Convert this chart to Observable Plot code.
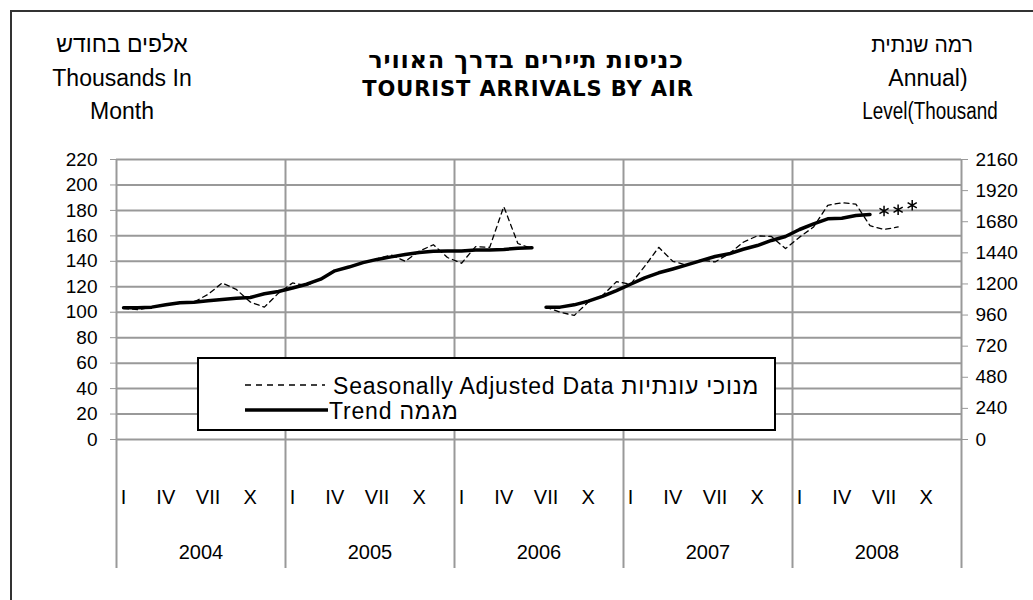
<!DOCTYPE html>
<html>
<head>
<meta charset="utf-8">
<script src="https://cdn.jsdelivr.net/npm/d3@7"></script>
<script src="https://cdn.jsdelivr.net/npm/@observablehq/plot@0.6"></script>
<style>
html,body{margin:0;padding:0;background:#fff;overflow:hidden;width:1033px;height:600px}
#wrap{position:relative;width:1033px;height:600px;font-family:"Liberation Sans",Arial,sans-serif;color:#000}
#chart{position:absolute;left:0;top:0}
#frame{position:absolute;left:10px;top:10px;width:1100px;height:700px;border:2px solid #333;box-sizing:border-box;pointer-events:none}
.lbl{position:absolute;white-space:nowrap;transform:translate(-50%,-50%);line-height:1}
.side{font-size:23px}
.title{font-family:"DejaVu Sans",sans-serif;font-weight:bold}
.tHe{font-size:24px;letter-spacing:0.8px}
.tEn{font-size:21px;letter-spacing:0.9px}
#legend{position:absolute;left:197px;top:357px;width:579px;height:74px;border:2px solid #000;box-sizing:border-box;background:#fff}
#legend .row{position:absolute;white-space:nowrap;font-size:23px;letter-spacing:0.8px;line-height:1;transform:translateY(-50%)}
#legend svg{position:absolute;left:0;top:0}
</style>
</head>
<body>
<div id="wrap">
  <div id="chart"></div>
  <div id="frame"></div>
  <div class="lbl side" style="left:122px;top:44px" dir="rtl">אלפים בחודש</div>
  <div class="lbl side" style="left:122px;top:78px">Thousands In</div>
  <div class="lbl side" style="left:122px;top:111px">Month</div>
  <div class="lbl title tHe" style="left:526px;top:60px" dir="rtl">כניסות תיירים בדרך האוויר</div>
  <div class="lbl title tEn" style="left:528px;top:89px">TOURIST ARRIVALS BY AIR</div>
  <div class="lbl side" style="left:922px;top:44px;font-size:21px" dir="rtl">רמה שנתית</div>
  <div class="lbl side" style="left:928px;top:78px">Annual)</div>
  <div class="lbl side" style="left:930px;top:111px;transform:translate(-50%,-50%) scaleX(0.82)">Level(Thousand</div>
  <div id="legend">
    <svg width="579" height="74">
      <line x1="46" x2="126" y1="26" y2="26" stroke="#000" stroke-width="1.3" stroke-dasharray="6,5"></line>
      <line x1="46" x2="129" y1="51" y2="51" stroke="#000" stroke-width="3.5"></line>
    </svg>
    <div class="row" style="left:134px;top:27px">Seasonally Adjusted Data מנוכי עונתיות</div>
    <div class="row" style="left:130px;top:52px">Trend מגמה</div>
  </div>
</div>
<script>
// ---- data ----
const years = [2004, 2005, 2006, 2007, 2008];
const romanLabels = ["I", "IV", "VII", "X"];
const romanMonths = [1, 4, 7, 10];
const leftTicks = [0, 20, 40, 60, 80, 100, 120, 140, 160, 180, 200, 220];
const rightTicks = [0, 240, 480, 720, 960, 1200, 1440, 1680, 1920, 2160];

// first series segment: Jan 2004 - Jun 2006
const seasonalA = [103, 102, 104, 106, 107, 108, 114, 123, 118, 108, 104, 115,
                   123, 121, 126, 132, 136, 139, 142, 145, 140, 148, 153, 143,
                   138.5, 151.6, 151, 183, 154, 150];
const trendA = [103.5, 103.5, 104, 105.8, 107.4, 107.9, 109, 110, 111, 111.6, 114.5, 116.3,
                119, 122, 126, 132.5, 135.5, 139, 141.5, 143.5, 145.4, 147, 148, 148.2,
                148.2, 148.8, 148.8, 149.3, 150.3, 150.6];
// second series segment: Jul 2006 - Aug 2008 (trend to Jun 2008)
const seasonalB = [104, 100, 97.5, 108, 113, 124,
                   122, 136, 151, 140, 137, 141, 139.5, 146, 155, 160, 159.5, 150,
                   159, 167, 184, 186, 185, 168, 165, 167];
const trendB = [104, 104, 105.8, 108.7, 112.4, 117,
                122, 127, 131, 134, 137.2, 140.6, 143.8, 145.9, 149.5, 152.4, 156.4, 159.5,
                165, 169.4, 173.4, 173.9, 176, 176.8];
// provisional estimates (asterisks): Jul - Sep 2008
const provisional = [179.5, 180.5, 184];

const startA = 0, startB = 30, startProv = 54;
const ratio = 2160 / 220;

const rows = (arr, start, seg) => arr.map((v, i) => ({t: start + i + 0.5, v, seg}));
const saRows = [...rows(seasonalA, startA, "a"), ...rows(seasonalB, startB, "b")];
const trRows = [...rows(trendA, startA, "a"), ...rows(trendB, startB, "b")];
const provRows = rows(provisional, startProv, "p");
const romanRows = years.flatMap((y, yi) => romanMonths.map((m, k) => ({t: yi * 12 + m - 0.5, label: romanLabels[k]})));
const yearRows = years.map((y, yi) => ({t: yi * 12 + 6, label: String(y)}));
const dividers = d3.range(0, years.length * 12 + 1, 12);

const chart = Plot.plot({
  width: 1033, height: 600,
  marginLeft: 116, marginRight: 72, marginTop: 159, marginBottom: 161,
  style: {fontFamily: "Liberation Sans, Arial, sans-serif", fontSize: "19px", color: "#000", background: "transparent"},
  x: {domain: [0, years.length * 12], axis: null},
  y: {domain: [0, 220]},
  marks: [
    Plot.ruleY(leftTicks, {stroke: "#999", strokeWidth: 2}),
    Plot.ruleX(dividers, {stroke: "#999", strokeWidth: 2, insetBottom: -129}),
    Plot.axisY(leftTicks, {anchor: "left", label: null, tickSize: 6, tickPadding: 13, stroke: "#999", fontSize: 19}),
    Plot.axisY(rightTicks.map(d => d / ratio), {anchor: "right", label: null, tickSize: 6, tickPadding: 8, stroke: "#999", fontSize: 19,
      tickFormat: d => String(Math.round(d * ratio))}),
    Plot.text(romanRows, {x: "t", text: "label", frameAnchor: "bottom", dy: 64, fontSize: 20}),
    Plot.text(yearRows, {x: "t", text: "label", frameAnchor: "bottom", dy: 119, fontSize: 20}),
    Plot.line(saRows, {x: "t", y: "v", z: "seg", stroke: "#000", strokeWidth: 1.3, strokeDasharray: "5,4"}),
    Plot.line(trRows, {x: "t", y: "v", z: "seg", stroke: "#000", strokeWidth: 3.5}),
    Plot.dot(provRows, {x: "t", y: "v", symbol: "asterisk", r: 5, stroke: "#000", strokeWidth: 1.5})
  ]
});
document.getElementById("chart").appendChild(chart);
</script>
</body>
</html>
